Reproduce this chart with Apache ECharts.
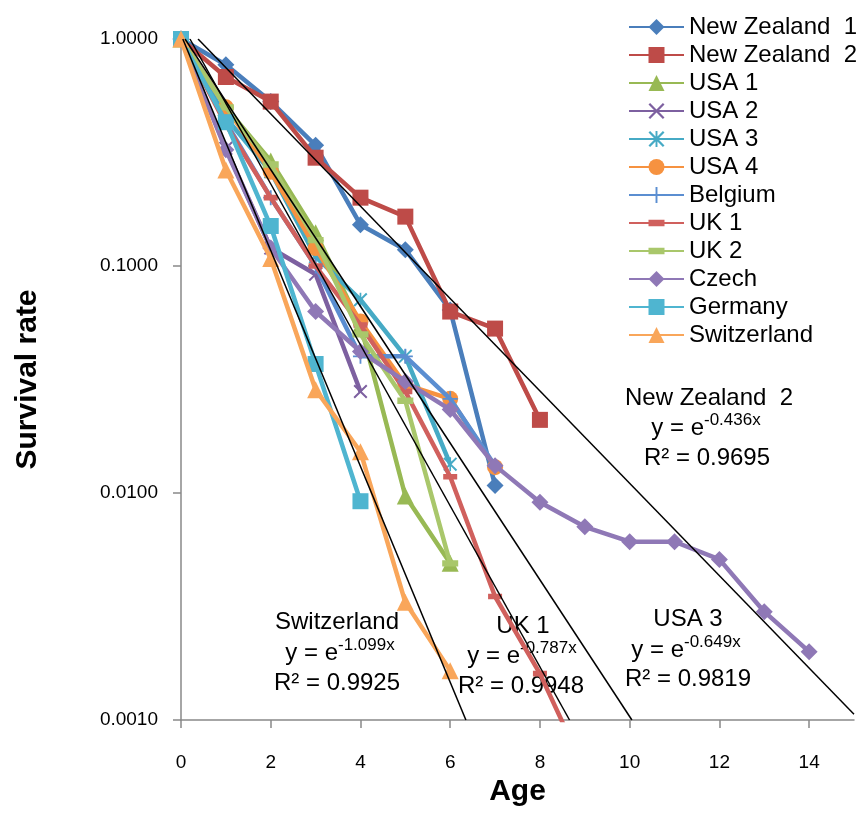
<!DOCTYPE html>
<html><head><meta charset="utf-8">
<script src="https://cdn.jsdelivr.net/npm/echarts@6/dist/echarts.min.js"></script>
<style>html,body{margin:0;padding:0;background:#fff}#c{width:862px;height:832px}</style>
</head><body><div id="c"></div>
<script>
// ---- data ----
const ages = [0,1,2,3,4,5,6,7,8,9,10,11,12,13,14];
const xTicks = [0,2,4,6,8,10,12,14];
const yTicks = [0.001,0.01,0.1,1];
const seriesNames = ['New Zealand  1','New Zealand  2','USA 1','USA 2','USA 3','USA 4','Belgium','UK 1','UK 2','Czech','Germany','Switzerland'];
const nz1 = [1, 0.77, 0.53, 0.34, 0.152, 0.118, 0.064, 0.0108];
const nz2 = [1, 0.68, 0.53, 0.30, 0.20, 0.165, 0.063, 0.053, 0.021];
const usa1 = [1, 0.50, 0.29, 0.14, 0.055, 0.0097, 0.0049];
const usa2 = [1, 0.33, 0.12, 0.092, 0.028];
const usa3 = [1, 0.45, 0.26, 0.11, 0.071, 0.040, 0.0134];
const usa4 = [1, 0.50, 0.26, 0.12, 0.057, 0.030, 0.026, 0.0130];
const belgium = [1, 0.43, 0.20, 0.10, 0.040, 0.040, 0.026, 0.0132];
const uk1 = [1, 0.42, 0.20, 0.10, 0.055, 0.028, 0.0118, 0.0035, 0.0016, 0.0006];
const uk2 = [1, 0.50, 0.28, 0.13, 0.050, 0.0255, 0.0049];
const czech = [1, 0.325, 0.12, 0.063, 0.042, 0.031, 0.0233, 0.0132, 0.0091, 0.0071, 0.0061, 0.0061, 0.0051, 0.0030, 0.0020];
const germany = [1, 0.43, 0.15, 0.037, 0.0092];
const switzerland = [1, 0.265, 0.108, 0.0285, 0.0152, 0.0033, 0.00165];
// trendline end points [age, rate]
const trendSwitzerland = [[0.04, 1], [6.35, 0.001]];
const trendUK1 = [[0.2, 1], [8.66, 0.001]];
const trendUSA3 = [[0.09, 1], [10.05, 0.001]];
const trendNZ2 = [[0.38, 1], [15, 0.00106]];
// ---- style ----
const FONT = '"Liberation Sans", Arial, sans-serif';
const colors = ['#4A7EBB','#BE4B48','#98B954','#7D60A0','#46AAC5','#F69240','#5B8ED1','#D0605D','#A9C76B','#8F78B6','#4FB5D0','#F9A65A'];
const P_X = 'path://M0,1L1,0L5,4L9,0L10,1L6,5L10,9L9,10L5,6L1,10L0,9L4,5Z';
const P_STAR = 'path://M0,1L1,0L5,4L9,0L10,1L6,5L10,9L9,10L5,6L1,10L0,9L4,5Z M4.4,0H5.6V10H4.4Z';
const P_PLUS = 'path://M4.4,0H5.6V4.4H10V5.6H5.6V10H4.4V5.6H0V4.4H4.4Z';
const P_DASH = 'path://M0,0h0.01v0.01h-0.01Z M0,3H10V7H0Z M9.99,9.99h0.01v0.01h-0.01Z';
const symbols = [['diamond',17],['rect',16],['triangle',17],[P_X,14],[P_STAR,14],['circle',16],[P_PLUS,15],[P_DASH,14],[P_DASH,16],['diamond',17],['rect',16],['triangle',17]];
const dataArrays = [nz1,nz2,usa1,usa2,usa3,usa4,belgium,uk1,uk2,czech,germany,switzerland];

const series = dataArrays.map((arr,i)=>({
  name: seriesNames[i], type:'line', clip:true, z: 2+i*0.01,
  data: arr.map((v,k)=>[ages[k], v]),
  symbol: symbols[i][0], symbolSize: symbols[i][1],
  lineStyle:{color:colors[i], width:4.5},
  itemStyle:{color:colors[i]}
}));
[trendSwitzerland, trendUK1, trendUSA3, trendNZ2].forEach(t=>{
  series.push({type:'line', name:'trend', data:t, symbol:'none', clip:true, z:5,
    lineStyle:{color:'#000', width:1.5}, silent:true});
});

function label(x,y,text){
  return {type:'text', x:x, y:y, z:0, style:{text:text, font:'24px '+FONT, fill:'#000', align:'center', verticalAlign:'middle'}};
}
function eqLabel(x,y,coef){
  return {type:'text', x:x, y:y, z:0, style:{text:'{b|y = e}{s|'+coef+'}', align:'center', verticalAlign:'middle', fill:'#000',
    rich:{b:{fontSize:24, fontFamily:FONT, fill:'#000'}, s:{fontSize:17, fontFamily:FONT, fill:'#000', padding:[0,0,16,0]}}}};
}

const chart = echarts.init(document.getElementById('c'), null, {renderer:'canvas'});
chart.setOption({
  animation:false,
  backgroundColor:'#fff',
  grid:{left:181, right:8, top:39, bottom:112},
  legend:{
    data: seriesNames, orient:'vertical', left:623, top:10,
    itemWidth:55, itemHeight:20, itemGap:4,
    textStyle:{fontSize:24, fontFamily:FONT, color:'#000', lineHeight:24}
  },
  xAxis:{
    type:'value', min:0, max:15,
    name:'Age', nameLocation:'middle', nameGap:56,
    nameTextStyle:{fontSize:30, fontWeight:'bold', fontFamily:FONT, color:'#000'},
    axisLine:{lineStyle:{color:'#898989', width:1.5}},
    axisTick:{show:true, length:8, lineStyle:{color:'#898989', width:1.5}, customValues:xTicks},
    axisLabel:{fontSize:19, fontFamily:FONT, color:'#000', margin:33, customValues:xTicks},
    splitLine:{show:false}
  },
  yAxis:{
    type:'log', logBase:10, min:0.001, max:1,
    name:'Survival rate', nameLocation:'middle', nameGap:138,
    nameTextStyle:{fontSize:30, fontWeight:'bold', fontFamily:FONT, color:'#000'},
    axisLine:{show:true, lineStyle:{color:'#898989', width:1.5}},
    axisTick:{show:true, length:8, lineStyle:{color:'#898989', width:1.5}, customValues:yTicks},
    axisLabel:{fontSize:19, fontFamily:FONT, color:'#000', margin:23, customValues:yTicks, formatter:v=>Number(v).toFixed(4)},
    splitLine:{show:false}, minorTick:{show:false}
  },
  graphic:[
    label(709,398,'New Zealand  2'), eqLabel(706,428,'-0.436x'), label(707,458,'R² = 0.9695'),
    label(337,622,'Switzerland'), eqLabel(340,653,'-1.099x'), label(337,683,'R² = 0.9925'),
    label(523,626,'UK 1'), eqLabel(522,656,'-0.787x'), label(521,686,'R² = 0.9948'),
    label(688,619,'USA 3'), eqLabel(686,650,'-0.649x'), label(688,679,'R² = 0.9819')
  ],
  series: series
});
</script></body></html>
